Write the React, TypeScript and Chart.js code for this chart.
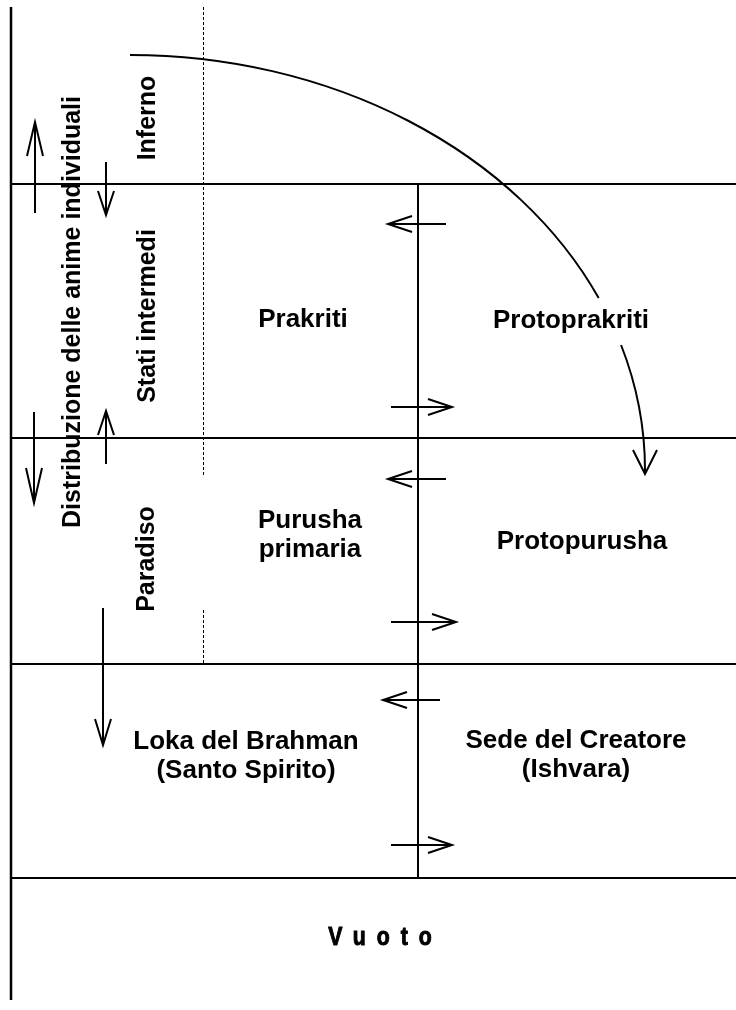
import React, { useEffect, useRef } from "react";
import { Chart, registerables } from "chart.js";

Chart.register(...registerables);

// ---- Diagram data (in picture units: x 0..736, y 0..1010 from the top) ----
const WIDTH = 736;
const HEIGHT = 1010;

// horizontal boundaries between the realms
const BOUNDARY_Y = [184, 438, 664, 878];
const BOUNDARY_X = [11, 736];

// left frame line
const FRAME_X = 11;
const FRAME_Y = [7, 1000];

// central divider
const DIVIDER_X = 418;
const DIVIDER_Y = [184, 878];

// dotted vertical line
const DOTTED_X = 203.5;
const DOTTED_SEGMENTS = [
  [7, 476],
  [610, 664],
];

// vertical arrows: x, tail y, tip y, head length
const V_ARROW_X = [35, 106, 34, 106, 103];
const V_ARROW_FROM = [213, 162, 412, 464, 608];
const V_ARROW_TO = [122, 215, 503, 411, 745];
const V_ARROW_HEAD = [34, 24, 35, 24, 26];

// horizontal arrows across the divider: y, tail x, tip x
const H_ARROW_Y = [224, 407, 479, 622, 700, 845];
const H_ARROW_FROM = [446, 391, 446, 391, 440, 391];
const H_ARROW_TO = [388, 452, 388, 456, 383, 452];

// quarter-ellipse arc (Protoprakriti)
const ARC_CENTER = [130, 470];
const ARC_RADII = [515, 415];
const ARC_GAP_Y = [298, 345];
const ARC_TIP = [645, 474];

// labels
const H_LABELS = [
  { lines: ["Prakriti"], x: 303, y: 327 },
  { lines: ["Protoprakriti"], x: 571, y: 328 },
  { lines: ["Purusha", "primaria"], x: 310, y: 528 },
  { lines: ["Protopurusha"], x: 582, y: 549 },
  { lines: ["Loka del Brahman", "(Santo Spirito)"], x: 246, y: 749 },
  { lines: ["Sede del Creatore", "(Ishvara)"], x: 576, y: 748 },
];
const LINE_GAP = 29;

const V_LABELS = [
  { text: "Inferno", x: 155, y: 118 },
  { text: "Stati intermedi", x: 155, y: 316 },
  { text: "Paradiso", x: 154, y: 559 },
  { text: "Distribuzione delle anime individuali", x: 80, y: 312 },
];

const VOID_LABEL = { text: "Vuoto", x: 380, y: 945 };

const FONT = '"Liberation Sans", Arial, Helvetica, sans-serif';

function seg(x0: number, y0: number, x1: number, y1: number, width = 2, dash: number[] = []) {
  return {
    data: [
      { x: x0, y: y0 },
      { x: x1, y: y1 },
    ],
    showLine: true,
    borderColor: "#000",
    borderWidth: width,
    borderDash: dash,
    pointRadius: 0,
    pointHoverRadius: 0,
    fill: false,
  };
}

const diagramPlugin = {
  id: "diagram",
  afterDatasetsDraw(chart: any) {
    const ctx: CanvasRenderingContext2D = chart.ctx;
    const sx = chart.scales.x;
    const sy = chart.scales.y;
    const px = (v: number) => sx.getPixelForValue(v);
    const py = (v: number) => sy.getPixelForValue(v);

    ctx.save();
    ctx.strokeStyle = "#000";
    ctx.fillStyle = "#000";
    ctx.lineWidth = 2;
    ctx.lineCap = "butt";

    const drawHead = (tx: number, ty: number, dx: number, dy: number, len: number, half: number) => {
      const bx = tx - dx * len;
      const by = ty - dy * len;
      const nx = -dy;
      const ny = dx;
      ctx.beginPath();
      ctx.moveTo(bx + nx * half, by + ny * half);
      ctx.lineTo(tx, ty);
      ctx.lineTo(bx - nx * half, by - ny * half);
      ctx.stroke();
    };

    // vertical arrows
    V_ARROW_X.forEach((x, i) => {
      const X = px(x);
      const y0 = py(V_ARROW_FROM[i]);
      const y1 = py(V_ARROW_TO[i]);
      ctx.beginPath();
      ctx.moveTo(X, y0);
      ctx.lineTo(X, y1);
      ctx.stroke();
      drawHead(X, y1, 0, Math.sign(y1 - y0), V_ARROW_HEAD[i], 8);
    });

    // horizontal arrows
    H_ARROW_Y.forEach((y, i) => {
      const Y = py(y);
      const x0 = px(H_ARROW_FROM[i]);
      const x1 = px(H_ARROW_TO[i]);
      ctx.beginPath();
      ctx.moveTo(x0, Y);
      ctx.lineTo(x1, Y);
      ctx.stroke();
      drawHead(x1, Y, Math.sign(x1 - x0), 0, 24, 8);
    });

    // arc
    const cx = px(ARC_CENTER[0]);
    const cy = py(ARC_CENTER[1]);
    const rx = px(ARC_CENTER[0] + ARC_RADII[0]) - cx;
    const ry = cy - py(ARC_CENTER[1] - ARC_RADII[1]);
    const a1 = Math.asin((py(ARC_GAP_Y[0]) - cy) / ry);
    const a2 = Math.asin((py(ARC_GAP_Y[1]) - cy) / ry);
    ctx.beginPath();
    ctx.ellipse(cx, cy, rx, ry, 0, -Math.PI / 2, a1);
    ctx.stroke();
    ctx.beginPath();
    ctx.ellipse(cx, cy, rx, ry, 0, a2, 0);
    ctx.lineTo(px(ARC_TIP[0]), py(ARC_TIP[1]));
    ctx.stroke();
    drawHead(px(ARC_TIP[0]), py(ARC_TIP[1]), 0, 1, 24, 12);

    // horizontal labels
    ctx.font = `bold 26px ${FONT}`;
    ctx.textAlign = "center";
    ctx.textBaseline = "alphabetic";
    H_LABELS.forEach((l) => {
      l.lines.forEach((t, k) => {
        ctx.fillText(t, px(l.x), py(l.y) + k * LINE_GAP);
      });
    });

    // rotated labels
    ctx.font = `bold 25px ${FONT}`;
    V_LABELS.forEach((l) => {
      ctx.save();
      ctx.translate(px(l.x), py(l.y));
      ctx.rotate(-Math.PI / 2);
      ctx.fillText(l.text, 0, 0);
      ctx.restore();
    });

    // spaced "Vuoto"
    ctx.save();
    ctx.translate(px(VOID_LABEL.x), py(VOID_LABEL.y));
    ctx.scale(0.85, 1);
    ctx.font = `bold 25px ${FONT}`;
    (ctx as any).letterSpacing = "13px";
    const w = ctx.measureText(VOID_LABEL.text).width;
    ctx.textAlign = "left";
    ctx.lineWidth = 1;
    ctx.fillText(VOID_LABEL.text, -(w - 13) / 2, 0);
    ctx.strokeText(VOID_LABEL.text, -(w - 13) / 2, 0);
    ctx.restore();

    ctx.restore();
  },
};

export default function App() {
  const ref = useRef<HTMLCanvasElement | null>(null);

  useEffect(() => {
    if (!ref.current) return;
    const datasets: any[] = [];
    BOUNDARY_Y.forEach((y) => datasets.push(seg(BOUNDARY_X[0], y, BOUNDARY_X[1], y, 2)));
    datasets.push(seg(FRAME_X, FRAME_Y[0], FRAME_X, FRAME_Y[1], 2.5));
    datasets.push(seg(DIVIDER_X, DIVIDER_Y[0], DIVIDER_X, DIVIDER_Y[1], 2));
    DOTTED_SEGMENTS.forEach((s) => datasets.push(seg(DOTTED_X, s[0], DOTTED_X, s[1], 1, [3, 2])));

    const chart = new Chart(ref.current, {
      type: "scatter",
      data: { datasets },
      options: {
        animation: false,
        responsive: false,
        events: [],
        layout: { padding: 0 },
        plugins: { legend: { display: false }, tooltip: { enabled: false } },
        scales: {
          x: { type: "linear", min: 0, max: WIDTH, display: false },
          y: { type: "linear", min: 0, max: HEIGHT, reverse: true, display: false },
        },
      },
      plugins: [diagramPlugin],
    } as any);
    return () => chart.destroy();
  }, []);

  return (
    <div style={{ position: "absolute", left: 0, top: 0, width: WIDTH, height: HEIGHT, background: "#fff" }}>
      <canvas ref={ref} width={WIDTH} height={HEIGHT} style={{ display: "block" }} />
    </div>
  );
}
